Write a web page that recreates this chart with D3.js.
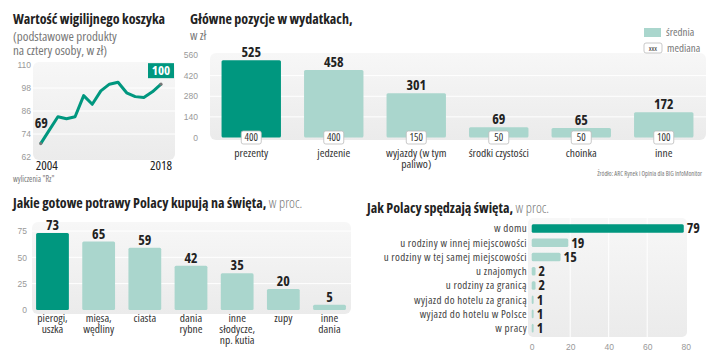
<!DOCTYPE html>
<html>
<head>
<meta charset="utf-8">
<script src="https://cdn.jsdelivr.net/npm/d3@7"></script>
<style>
  body { margin: 0; background: #fff; }
  svg { display: block; font-family: "Open Sans", sans-serif; font-stretch: condensed; }
</style>
</head>
<body>
<div id="chart"></div>
<script>
// dane: koszyk wigilijny
const years = d3.range(2004, 2019);
const basket = [69, 76, 83, 82, 83, 94, 89.5, 96.5, 100, 101, 95.5, 93.5, 93, 96, 100];
const basketTicks = [62, 74, 86, 98, 110];

// dane: wydatki
const spendCats = [["prezenty"], ["jedzenie"], ["wyjazdy (w tym", "paliwo)"], ["środki czystości"], ["choinka"], ["inne"]];
const spendMean = [525, 458, 301, 69, 65, 172];
const spendMedian = [400, 400, 150, 50, 50, 100];
const spendTicks = [0, 140, 280, 420, 560];

// dane: gotowe potrawy
const foodCats = [["pierogi,", "uszka"], ["mięsa,", "wędliny"], ["ciasta"], ["dania", "rybne"], ["inne", "słodycze,", "np. kutia"], ["zupy"], ["inne", "dania"]];
const foodVals = [73, 65, 59, 42, 35, 20, 5];
const foodTicks = [0, 25, 50, 75];

// dane: gdzie spędzamy święta
const placeCats = ["w domu", "u rodziny w innej miejscowości", "u rodziny w tej samej miejscowości", "u znajomych", "u rodziny za granicą", "wyjazd do hotelu za granicą", "wyjazd do hotelu w Polsce", "w pracy"];
const placeVals = [79, 19, 15, 2, 2, 1, 1, 1];
const placeTicks = [0, 20, 40, 60, 80];

const dark = "#00977f", light = "#aad6cd", ink = "#222", grey = "#777", tickC = "#999";

const svg = d3.select("#chart").append("svg")
  .attr("width", 720).attr("height", 360);

const defs = svg.append("defs");
const grad = defs.append("linearGradient").attr("id", "bg").attr("x1", 0).attr("y1", 0).attr("x2", 0).attr("y2", 1);
grad.append("stop").attr("offset", "0%").attr("stop-color", "#f7f7f7");
grad.append("stop").attr("offset", "100%").attr("stop-color", "#ebebeb");

function title(x, y, bold, rest) {
  const t = svg.append("text").attr("x", x).attr("y", y).attr("font-size", 14);
  t.append("tspan").attr("font-weight", "bold").attr("fill", ink).text(bold);
  if (rest) t.append("tspan").attr("fill", grey).attr("font-weight", 300).text(rest);
}

function yTicks(axis) {
  return g => g.call(axis).call(a => a.select(".domain").remove())
    .selectAll("text").attr("fill", tickC).attr("font-size", 8.5).attr("font-family", null);
}

// wielowierszowe podpisy kategorii
function multiLabels(g, cats, xPos, y0, size) {
  g.selectAll("text").data(cats).join("text")
    .attr("text-anchor", "middle").attr("font-size", size).attr("fill", "#333")
    .selectAll("tspan").data((d, i) => d.map(s => [s, xPos(i)])).join("tspan")
    .attr("x", d => d[1]).attr("y", (d, j) => y0 + j * 11).text(d => d[0]);
}

// ---------- 1. linia ----------
{
  const x = d3.scaleLinear().domain([2004, 2018]).range([40.7, 161]);
  const y = d3.scaleLinear().domain([62, 110]).range([157, 65]);

  title(13, 24, "Wartość wigilijnego koszyka");
  svg.append("text").attr("x", 13).attr("y", 41).attr("font-size", 13).attr("fill", grey).text("(podstawowe produkty");
  svg.append("text").attr("x", 13).attr("y", 55).attr("font-size", 13).attr("fill", grey).text("na cztery osoby, w zł)");

  svg.append("rect").attr("x", 33).attr("y", 62).attr("width", 142).attr("height", 98)
    .attr("rx", 6).attr("fill", "url(#bg)");

  svg.append("g").selectAll("line").data(basketTicks.slice(1, -1)).join("line")
    .attr("x1", 33).attr("x2", 175).attr("y1", d => y(d)).attr("y2", d => y(d))
    .attr("stroke", "#fff").attr("stroke-width", 1);

  svg.append("g").attr("transform", "translate(31,0)")
    .call(yTicks(d3.axisLeft(y).tickValues(basketTicks).tickSize(0).tickPadding(0)));

  const line = d3.line().x((d, i) => x(years[i])).y(d => y(d));
  svg.append("path").datum(basket).attr("d", line)
    .attr("fill", "none").attr("stroke", dark).attr("stroke-width", 3).attr("stroke-linejoin", "round");

  [0, basket.length - 1].forEach(i => {
    svg.append("circle").attr("cx", x(years[i])).attr("cy", y(basket[i])).attr("r", 1.6).attr("fill", "#777");
  });

  svg.append("text").attr("x", x(2004) - 6).attr("y", y(basket[0]) - 16)
    .attr("font-size", 14).attr("font-weight", "bold").attr("fill", ink).text(basket[0]);

  const lx = x(2018), ly = y(basket[basket.length - 1]);
  svg.append("rect").attr("x", lx - 13).attr("y", ly - 21).attr("width", 26).attr("height", 15).attr("fill", dark);
  svg.append("text").attr("x", lx).attr("y", ly - 9).attr("text-anchor", "middle")
    .attr("font-size", 13).attr("font-weight", "bold").attr("fill", "#fff").text(basket[basket.length - 1]);

  svg.append("text").attr("x", x(2004) + 6).attr("y", 170).attr("text-anchor", "middle")
    .attr("font-size", 13).attr("fill", ink).text("2004");
  svg.append("text").attr("x", x(2018)).attr("y", 170).attr("text-anchor", "middle")
    .attr("font-size", 13).attr("fill", ink).text("2018");

  svg.append("text").attr("x", 13).attr("y", 182).attr("font-size", 8).attr("fill", grey).text("wyliczenia \"Rz\"");
}

// ---------- 2. wydatki ----------
{
  const x = d3.scaleBand().domain(d3.range(spendCats.length)).range([210, 705]).paddingInner(0.28).paddingOuter(0.14);
  const y = d3.scaleLinear().domain([0, 560]).range([137.5, 55]);

  title(190, 24, "Główne pozycje w wydatkach,");
  svg.append("text").attr("x", 190).attr("y", 40).attr("font-size", 12.5).attr("fill", grey).text("w zł");

  svg.append("rect").attr("x", 210).attr("y", 53).attr("width", 496).attr("height", 87)
    .attr("rx", 6).attr("fill", "url(#bg)");
  svg.append("g").selectAll("line").data(spendTicks.slice(1, -1)).join("line")
    .attr("x1", 210).attr("x2", 706).attr("y1", d => y(d)).attr("y2", d => y(d))
    .attr("stroke", "#fff");

  svg.append("g").attr("transform", "translate(198,0)")
    .call(yTicks(d3.axisLeft(y).tickValues(spendTicks).tickSize(0).tickPadding(0)));

  svg.append("g").selectAll("rect").data(spendMean).join("rect")
    .attr("x", (d, i) => x(i)).attr("width", x.bandwidth())
    .attr("y", d => y(d)).attr("height", d => y(0) - y(d))
    .attr("rx", 1.5).attr("fill", (d, i) => i === 0 ? dark : light);

  svg.append("g").selectAll("text").data(spendMean).join("text")
    .attr("x", (d, i) => x(i) + x.bandwidth() / 2).attr("y", d => y(d) - 3)
    .attr("text-anchor", "middle").attr("font-size", 14).attr("font-weight", "bold").attr("fill", ink)
    .text(d => d);

  const med = svg.append("g").selectAll("g").data(spendMedian).join("g")
    .attr("transform", (d, i) => `translate(${x(i) + x.bandwidth() / 2},137)`);
  med.append("rect").attr("x", -10).attr("y", -6).attr("width", 20).attr("height", 13)
    .attr("rx", 2).attr("fill", "#fff").attr("stroke", "#bbb").attr("stroke-width", 0.8);
  med.append("text").attr("y", 4).attr("text-anchor", "middle").attr("font-size", 10.5).attr("fill", "#333").text(d => d);

  multiLabels(svg.append("g"), spendCats, i => x(i) + x.bandwidth() / 2, 157, 11.5);

  // legenda
  svg.append("rect").attr("x", 644).attr("y", 28).attr("width", 17).attr("height", 9).attr("fill", light);
  svg.append("text").attr("x", 666).attr("y", 36).attr("font-size", 11).attr("fill", grey).text("średnia");
  svg.append("rect").attr("x", 644).attr("y", 43).attr("width", 18).attr("height", 10).attr("rx", 2)
    .attr("fill", "#fff").attr("stroke", "#bbb").attr("stroke-width", 0.8);
  svg.append("text").attr("x", 653).attr("y", 51).attr("text-anchor", "middle").attr("font-size", 7.5).attr("fill", "#333").text("xxx");
  svg.append("text").attr("x", 667).attr("y", 52).attr("font-size", 11).attr("fill", grey).text("mediana");

  svg.append("text").attr("x", 702).attr("y", 176).attr("text-anchor", "end").attr("font-size", 6.5)
    .attr("fill", grey).text("Źródło: ARC Rynek i Opinia dla BIG InfoMonitor");
}

// ---------- 3. potrawy ----------
{
  const x = d3.scaleBand().domain(d3.range(foodCats.length)).range([29.4, 352.6]).paddingInner(0.29).paddingOuter(0.145);
  const y = d3.scaleLinear().domain([0, 75]).range([310, 231]);

  title(13, 208, "Jakie gotowe potrawy Polacy kupują na święta,", " w proc.");

  svg.append("rect").attr("x", 32).attr("y", 222).attr("width", 319).attr("height", 92)
    .attr("rx", 6).attr("fill", "url(#bg)");
  svg.append("g").selectAll("line").data(foodTicks.slice(1)).join("line")
    .attr("x1", 32).attr("x2", 351).attr("y1", d => y(d)).attr("y2", d => y(d)).attr("stroke", "#fff");

  svg.append("g").attr("transform", "translate(27,0)")
    .call(yTicks(d3.axisLeft(y).tickValues(foodTicks).tickSize(0).tickPadding(0)));

  svg.append("g").selectAll("rect").data(foodVals).join("rect")
    .attr("x", (d, i) => x(i)).attr("width", x.bandwidth())
    .attr("y", d => y(d)).attr("height", d => y(0) - y(d))
    .attr("rx", 1.5).attr("fill", (d, i) => i === 0 ? dark : light);

  svg.append("g").selectAll("text").data(foodVals).join("text")
    .attr("x", (d, i) => x(i) + x.bandwidth() / 2).attr("y", d => y(d) - 3)
    .attr("text-anchor", "middle").attr("font-size", 14).attr("font-weight", "bold").attr("fill", ink)
    .text(d => d);

  multiLabels(svg.append("g"), foodCats, i => x(i) + x.bandwidth() / 2, 322, 11.5);
}

// ---------- 4. gdzie ----------
{
  const x = d3.scaleLinear().domain([0, 80]).range([531.7, 685.7]);
  const y = d3.scaleBand().domain(placeCats).range([218.5, 338.1]).padding(0.4);

  title(367, 213, "Jak Polacy spędzają święta,", " w proc.");

  svg.append("rect").attr("x", 528).attr("y", 218).attr("width", 159).attr("height", 119)
    .attr("rx", 5).attr("fill", "url(#bg)");
  svg.append("g").selectAll("line").data(placeTicks.slice(1, -1)).join("line")
    .attr("x1", d => x(d)).attr("x2", d => x(d)).attr("y1", 218).attr("y2", 337).attr("stroke", "#fff");

  svg.append("g").attr("transform", "translate(0,338)")
    .call(yTicks(d3.axisBottom(x).tickValues(placeTicks).tickSize(0).tickPadding(6)));

  svg.append("g").selectAll("rect").data(placeVals).join("rect")
    .attr("x", x(0)).attr("y", (d, i) => y(placeCats[i]))
    .attr("width", d => x(d) - x(0)).attr("height", y.bandwidth())
    .attr("rx", 1.5).attr("fill", (d, i) => i === 0 ? dark : light);

  svg.append("g").selectAll("text").data(placeVals).join("text")
    .attr("x", d => x(d) + 3).attr("y", (d, i) => y(placeCats[i]) + y.bandwidth() / 2 + 5)
    .attr("font-size", 14).attr("font-weight", "bold").attr("fill", ink).text(d => d);

  svg.append("g").selectAll("text").data(placeCats).join("text")
    .attr("x", 527).attr("y", d => y(d) + y.bandwidth() / 2 + 4)
    .attr("text-anchor", "end").attr("font-size", 11).attr("letter-spacing", 0.35).attr("fill", "#444").text(d => d);
}
</script>
</body>
</html>
